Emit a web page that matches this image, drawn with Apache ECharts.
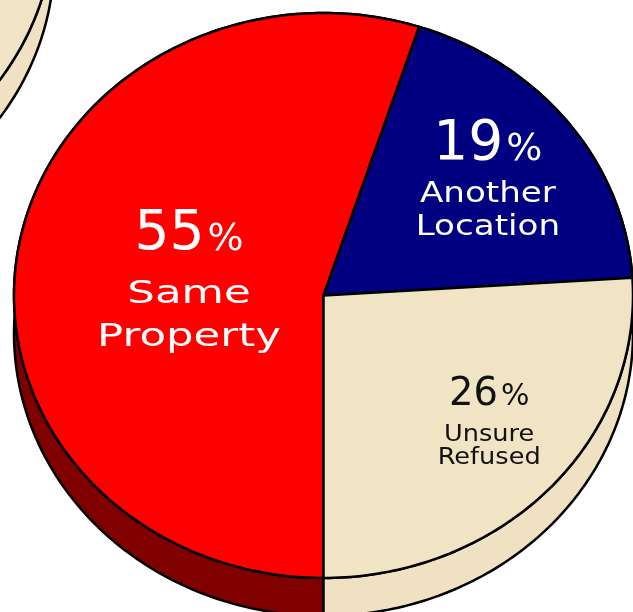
<!DOCTYPE html>
<html>
<head>
<meta charset="utf-8">
<title>Where they would rebuild</title>
<script src="https://cdn.jsdelivr.net/npm/echarts@6/dist/echarts.min.js"></script>
<style>
html, body { margin: 0; padding: 0; background: #fff; }
#main { width: 633px; height: 612px; }
</style>
</head>
<body>
<div id="main"></div>
<script>
// slices, clockwise from 6 o'clock
var categories = ['Same Property', 'Another Location', 'Unsure Refused'];
var nameLines = [['Same', 'Property'], ['Another', 'Location'], ['Unsure', 'Refused']];
var values = [55, 19, 26];
// edge of the next pie, cut off in the top left corner
var neighborValues = [100];

var faceColors = ['#ff0000', '#000080', '#f1e4c5'];
var sideColors = ['#800000', '#000050', '#efe1c1'];
var textColors = ['#ffffff', '#ffffff', '#111111'];
var startDeg = 180;
var depth = 38;
var neighborCenter = [-1.87, 1.33];
var font = '"DejaVu Sans", sans-serif';

// label block: radius along the slice middle, nudge in px, line offsets in px
var labelStyle = [
  {r: 0.44, nudge: [0, 7], num: 55, pct: 38, name: 31.5, scale: 1.38, numY: -48.5, nameY: 33.5, lh: 43},
  {r: 0.66, nudge: [3, 0], num: 55, pct: 38, name: 28, scale: 1.22, numY: -36.5, nameY: 30, lh: 33},
  {r: 0.69, nudge: [10, -5], num: 38.5, pct: 30, name: 23.3, scale: 1.1, numY: -28.5, nameY: 22.5, lh: 23}
];

var total = values.reduce(function (a, b) { return a + b; }, 0);
var starts = [];
var acc = 0;
values.forEach(function (v) { starts.push(startDeg + acc / total * 360); acc += v; });

var chart = echarts.init(document.getElementById('main'));

function arc(api, a0, a1, c, dy) {
  var pts = [];
  var n = Math.max(2, Math.ceil(Math.abs(a1 - a0)));
  for (var i = 0; i <= n; i++) {
    var a = (a0 + (a1 - a0) * i / n) * Math.PI / 180;
    var p = api.coord([c[0] + Math.sin(a), c[1] + Math.cos(a)]);
    pts.push([p[0], p[1] + dy]);
  }
  return pts;
}

var edge = {stroke: '#000', lineWidth: 2.5, lineJoin: 'round'};

function sideItem(a0, a1, c, color, api) {
  var top = arc(api, a0, a1, c, 0);
  var bottom = arc(api, a0, a1, c, depth).reverse();
  return {
    type: 'polygon',
    shape: {points: top.concat(bottom)},
    style: Object.assign({fill: color}, edge)
  };
}

function faceItem(a0, a1, c, color, api) {
  var pts = [api.coord(c)].concat(arc(api, a0, a1, c, 0));
  return {
    type: 'polygon',
    shape: {points: pts},
    style: Object.assign({fill: color}, edge)
  };
}

function renderNeighbor(params, api) {
  var v = api.value(0);
  var a1 = startDeg + v / 100 * 360;
  return {
    type: 'group',
    children: [
      sideItem(startDeg, a1, neighborCenter, sideColors[2], api),
      faceItem(startDeg, a1, neighborCenter, faceColors[2], api)
    ]
  };
}

function renderSide(params, api) {
  var i = params.dataIndex;
  var a0 = starts[i];
  var a1 = a0 + api.value(0) / total * 360;
  return sideItem(a0, a1, [0, 0], sideColors[i], api);
}

function renderFace(params, api) {
  var i = params.dataIndex;
  var v = api.value(0);
  var a0 = starts[i];
  var a1 = a0 + v / total * 360;
  var s = labelStyle[i];
  var mid = (a0 + a1) / 2 * Math.PI / 180;
  var c = api.coord([s.r * Math.sin(mid), s.r * Math.cos(mid)]);
  var cx = c[0] + s.nudge[0];
  var cy = c[1] + s.nudge[1];
  return {
    type: 'group',
    children: [
      faceItem(a0, a1, [0, 0], faceColors[i], api),
      {
        type: 'text',
        x: cx,
        y: cy + s.numY,
        style: {
          text: '{n|' + v + '}{p|%}',
          align: 'center',
          verticalAlign: 'middle',
          rich: {
            n: {fontSize: s.num, fontFamily: font, fill: textColors[i], verticalAlign: 'bottom'},
            p: {fontSize: s.pct, fontFamily: font, fill: textColors[i], verticalAlign: 'bottom', padding: [0, 0, 3, 3]}
          }
        }
      },
      {
        type: 'text',
        x: cx,
        y: cy + s.nameY,
        scaleX: s.scale,
        style: {
          text: nameLines[i].join('\n'),
          fontSize: s.name,
          fontFamily: font,
          lineHeight: s.lh,
          fill: textColors[i],
          align: 'center',
          verticalAlign: 'middle'
        }
      }
    ]
  };
}

var pieData = values.map(function (v, i) {
  return {name: categories[i], value: [v, i]};
});

chart.setOption({
  animation: false,
  backgroundColor: '#ffffff',
  grid: {left: 14, top: 13, width: 624, height: 565},
  xAxis: {type: 'value', min: -1, max: 1, show: false},
  yAxis: {type: 'value', min: -1, max: 1, show: false},
  series: [
    {
      name: 'neighbor',
      type: 'custom',
      renderItem: renderNeighbor,
      data: neighborValues.map(function (v) { return [v, 0]; }),
      silent: true
    },
    {
      name: 'side',
      type: 'custom',
      renderItem: renderSide,
      data: pieData,
      silent: true
    },
    {
      name: 'pie',
      type: 'custom',
      renderItem: renderFace,
      data: pieData
    }
  ]
});
</script>
</body>
</html>
